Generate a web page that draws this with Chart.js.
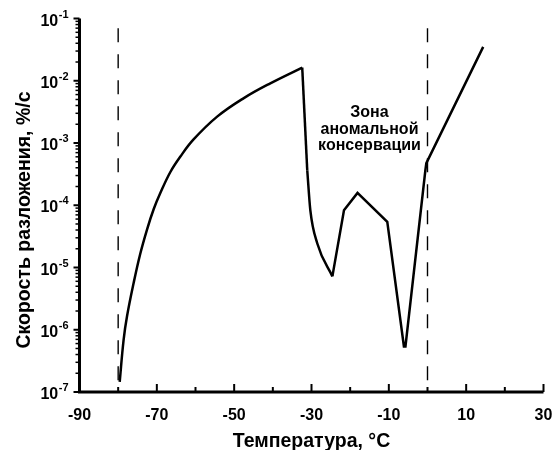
<!DOCTYPE html>
<html><head><meta charset="utf-8">
<script src="https://cdn.jsdelivr.net/npm/chart.js@4/dist/chart.umd.min.js"></script>
<style>html,body{margin:0;padding:0;background:#fff}#wrap{width:555px;height:450px}</style>
</head><body><div id="wrap"><canvas id="c" width="555" height="450"></canvas></div>
<script>
// ---- data ----
const xTicks = [-90, -70, -50, -30, -10, 10, 30];
const xMinorTicks = [-80, -60, -40, -20, 0, 20];
const yTicks = [1e-1, 1e-2, 1e-3, 1e-4, 1e-5, 1e-6, 1e-7];
const yTickExp = ['-1', '-2', '-3', '-4', '-5', '-6', '-7'];

// smooth rise from -80 °C to the peak
const tempRise = [-79.6, -78.6, -77.7, -76.0, -74.3, -72.5, -70.8, -69.1, -66.5, -63.9, -60.5, -54.4, -47.6, -40.65, -32.4];
const rateRise = [1.46e-7, 6.84e-7, 1.66e-6, 5.64e-6, 1.65e-5, 4.15e-5, 8.71e-5, 1.57e-4, 3.42e-4, 6.07e-4, 1.14e-3, 2.65e-3, 5.22e-3, 9.10e-3, 1.63e-2];

// sharp drop after the peak
const tempDrop = [-32.4, -31.1];
const rateDrop = [1.63e-2, 3.65e-4];
// curved tail of the drop down to the first minimum
const tempTail = [-31.1, -30.3, -28.5, -24.6];
const rateTail = [3.65e-4, 8.3e-5, 2.43e-5, 7.2e-6];

// anomalous zone and beyond (straight segments)
const tempZone = [-24.6, -21.6, -18.1, -10.4, -6.1, -5.7, -0.55, -0.3, 14.4];
const rateZone = [7.2e-6, 8.3e-5, 1.58e-4, 5.4e-5, 5.4e-7, 5.4e-7, 3.65e-4, 4.75e-4, 3.5e-2];

// dashed boundaries
const zoneBounds = [-80, 0];
const boundLow = 1e-7;
const boundTop = 0.07;

const xTitle = 'Температура, °С';
const yTitle = 'Скорость разложения, %/с';
const noteLines = ['Зона', 'аномальной', 'консервации'];
const noteTemp = -15;

// ---- build ----
const pts = (xs, ys) => xs.map((v, i) => ({x: v, y: ys[i]}));
const FONT = '"Liberation Sans", Arial, sans-serif';

const curve = (data, mode) => ({
  data, borderColor: '#000', borderWidth: 2.5, pointRadius: 0, fill: false,
  tension: mode === 'spline' ? 0.4 : 0,
  cubicInterpolationMode: mode === 'monotone' ? 'monotone' : 'default',
  borderJoinStyle: 'miter', borderCapStyle: 'butt'
});

const datasets = zoneBounds.map(b => ({
  data: [{x: b, y: boundTop}, {x: b, y: boundLow}],
  borderColor: '#000', borderWidth: 1.4, borderDash: [14, 12], pointRadius: 0, fill: false
}));
datasets.push(curve(pts(tempRise, rateRise), 'spline'));
datasets.push(curve(pts(tempDrop, rateDrop), 'straight'));
datasets.push(curve(pts(tempTail, rateTail), 'monotone'));
datasets.push(curve(pts(tempZone, rateZone), 'straight'));

const axesPlugin = {
  id: 'axesDraw',
  afterDatasetsDraw(chart) {
    const {ctx, chartArea: a, scales: {x, y}} = chart;
    ctx.save();
    ctx.strokeStyle = '#000';
    ctx.fillStyle = '#000';
    // axis lines
    ctx.lineWidth = 3;
    ctx.lineJoin = 'miter';
    ctx.beginPath();
    ctx.moveTo(a.left, a.top);
    ctx.lineTo(a.left, a.bottom);
    ctx.lineTo(a.right, a.bottom);
    ctx.stroke();
    // y ticks
    ctx.lineWidth = 2;
    yTicks.forEach(v => {
      const py = y.getPixelForValue(v);
      ctx.beginPath(); ctx.moveTo(a.left - 6, py); ctx.lineTo(a.left, py); ctx.stroke();
    });
    ctx.lineWidth = 1.5;
    for (let d = -7; d <= -2; d++) {
      for (let k = 2; k <= 9; k++) {
        const py = y.getPixelForValue(k * Math.pow(10, d));
        ctx.beginPath(); ctx.moveTo(a.left - 4, py); ctx.lineTo(a.left, py); ctx.stroke();
      }
    }
    // x ticks (inward)
    ctx.lineWidth = 2;
    xTicks.forEach(v => {
      const px = x.getPixelForValue(v);
      ctx.beginPath(); ctx.moveTo(px, a.bottom); ctx.lineTo(px, a.bottom - 8); ctx.stroke();
    });
    xMinorTicks.forEach(v => {
      const px = x.getPixelForValue(v);
      ctx.beginPath(); ctx.moveTo(px, a.bottom); ctx.lineTo(px, a.bottom - 5); ctx.stroke();
    });
    // x labels
    ctx.font = 'bold 16px ' + FONT;
    ctx.textAlign = 'center';
    ctx.textBaseline = 'alphabetic';
    xTicks.forEach(v => ctx.fillText(String(v), x.getPixelForValue(v), a.bottom + 28));
    // y labels 10^n
    const R = a.left - 11;
    yTicks.forEach((v, i) => {
      const py = y.getPixelForValue(v);
      ctx.font = 'bold 11px ' + FONT;
      const ws = ctx.measureText(yTickExp[i]).width;
      ctx.textAlign = 'right';
      ctx.fillText(yTickExp[i], R, py - 1);
      ctx.font = 'bold 16px ' + FONT;
      ctx.fillText('10', R - ws - 0.5, py + 7);
    });
    // titles
    ctx.font = 'bold 19.5px ' + FONT;
    ctx.textAlign = 'center';
    ctx.fillText(xTitle, (a.left + a.right) / 2, 447);
    ctx.save();
    ctx.translate(30, 220);
    ctx.rotate(-Math.PI / 2);
    ctx.fillText(yTitle, 0, 0);
    ctx.restore();
    // note
    ctx.font = 'bold 16px ' + FONT;
    ctx.textBaseline = 'middle';
    const nx = x.getPixelForValue(noteTemp);
    noteLines.forEach((t, i) => ctx.fillText(t, nx, 113 + i * 16.5));
    ctx.restore();
  }
};

new Chart(document.getElementById('c'), {
  type: 'line',
  data: {datasets},
  options: {
    responsive: false,
    animation: false,
    devicePixelRatio: 1,
    layout: {padding: {left: 79.5, right: 11.5, top: 18.5, bottom: 58}},
    plugins: {legend: {display: false}, tooltip: {enabled: false}, title: {display: false}},
    scales: {
      x: {type: 'linear', min: -90, max: 30, display: false},
      y: {type: 'logarithmic', min: 1e-7, max: 1e-1, display: false}
    }
  },
  plugins: [axesPlugin]
});
</script>
</body></html>
